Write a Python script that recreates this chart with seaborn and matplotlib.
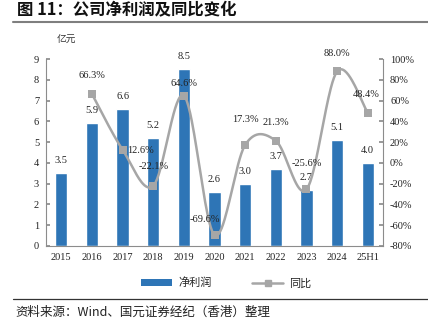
import numpy as np
import pandas as pd
import matplotlib
matplotlib.use("Agg")
import matplotlib.pyplot as plt
from matplotlib.lines import Line2D
from matplotlib.patches import Patch
import seaborn as sns

sns.set_theme(style="white")
plt.rcParams["font.family"] = ["Liberation Serif", "Noto Sans CJK SC", "DejaVu Sans"]

# ---- data ----
periods = ["2015", "2016", "2017", "2018", "2019", "2020",
           "2021", "2022", "2023", "2024", "25H1"]
net_profit = [3.5, 5.9, 6.6, 5.2, 8.5, 2.6, 3.0, 3.7, 2.7, 5.1, 4.0]
yoy_periods = ["2016", "2017", "2018", "2019", "2020",
               "2021", "2022", "2023", "2024", "25H1"]
yoy = [66.3, 12.6, -22.1, 64.6, -69.6, 17.3, 21.3, -25.6, 88.0, 48.4]

# label offsets (pixels) for the yoy annotations
yoy_offsets = [(0, 19), (18, -1), (0, 19), (0, 12), (-10, 16),
               (0, 25), (0, 18), (0, 26), (0, 18), (-2, 18)]

BLUE = "#2E75B6"
GREY = "#A6A6A6"
SPINE = "#8C8C8C"

df = pd.DataFrame({"period": periods, "profit": net_profit})

fig = plt.figure(figsize=(4.28, 3.26), dpi=100)
ax = fig.add_axes([0.1075, 0.2455, 0.7875, 0.5735])

sns.barplot(data=df, x="period", y="profit", color=BLUE, width=0.4,
            saturation=1, ax=ax, zorder=2)
ax.set_ylim(0, 9)
ax.set_xlim(-0.5, len(periods) - 0.5)
ax.set_yticks(range(0, 10))
ax.set_xlabel("")
ax.set_ylabel("")

for i, v in enumerate(net_profit):
    ax.annotate(f"{v:.1f}", (i, v), xytext=(0, 8), textcoords="offset pixels",
                ha="center", va="bottom", fontsize=7.5, color="#222222")

# right axis: year-over-year growth, smooth curve
ax2 = ax.twinx()
ax2.set_ylim(-80, 100)
ax2.set_yticks(range(-80, 101, 20))
ax2.set_yticklabels([f"{t}%" for t in range(-80, 101, 20)])

xs = np.array([periods.index(p) for p in yoy_periods], dtype=float)
ys = np.array(yoy, dtype=float)
pts = np.column_stack([xs, ys])
curve = []
n = len(pts)
for i in range(n - 1):
    p0 = pts[i - 1] if i > 0 else pts[i]
    p1 = pts[i]
    p2 = pts[i + 1]
    p3 = pts[i + 2] if i + 2 < n else pts[i + 1]
    c1 = p1 + (p2 - p0) / 6.0
    c2 = p2 - (p3 - p1) / 6.0
    t = np.linspace(0, 1, 40)[:, None]
    seg = ((1 - t) ** 3) * p1 + 3 * ((1 - t) ** 2) * t * c1 \
        + 3 * (1 - t) * t ** 2 * c2 + t ** 3 * p2
    curve.append(seg if i == 0 else seg[1:])
curve = np.vstack(curve)
ax2.plot(curve[:, 0], curve[:, 1], color=GREY, lw=1.8, zorder=3,
         solid_capstyle="round")
sns.scatterplot(x=xs, y=ys, marker="s", s=28, color=GREY, edgecolor=GREY,
                linewidth=0, ax=ax2, zorder=4)

for x, v, off in zip(xs, yoy, yoy_offsets):
    ax2.annotate(f"{v:.1f}%", (x, v), xytext=off, textcoords="offset pixels",
                 ha="center", va="center", fontsize=7.5, color="#222222")

# axis styling
for a in (ax, ax2):
    a.spines["top"].set_visible(False)
    for s in ("left", "right", "bottom"):
        a.spines[s].set_color(SPINE)
        a.spines[s].set_linewidth(0.8)
ax.spines["right"].set_visible(False)
ax2.spines["left"].set_visible(False)
ax2.spines["bottom"].set_visible(False)

ax.tick_params(axis="y", direction="in", length=3, color=SPINE, labelsize=7.5,
               pad=5, labelcolor="#222222")
ax2.tick_params(axis="y", direction="in", length=3, color=SPINE, labelsize=7.5,
                pad=5, labelcolor="#222222")
ax.set_xticks(np.arange(len(periods)))
ax.set_xticks(np.arange(-0.5, len(periods)), minor=True)
ax.tick_params(axis="x", which="major", length=0, labelsize=7.5, pad=5,
               labelcolor="#222222")
ax.tick_params(axis="x", which="minor", direction="in", length=3, color=SPINE)
ax.set_xlim(-0.5, len(periods) - 0.5)
ax2.set_xlim(-0.5, len(periods) - 0.5)

ax.text(0.033, 1.1, "亿元", transform=ax.transAxes, fontsize=7,
        family=["Noto Sans CJK SC"], color="#333333", ha="left", va="center")

# legend
handles = [Patch(facecolor=BLUE, edgecolor="none"),
           Line2D([0], [0], color=GREY, lw=1.8, marker="s", markersize=4)]
fig.legend(handles, ["净利润", "同比"], loc="center", bbox_to_anchor=(0.529, 0.132),
           ncol=2, frameon=False, handlelength=2.8, handleheight=0.6,
           columnspacing=3.6, handletextpad=0.55,
           prop={"family": ["Noto Sans CJK SC"], "size": 8})

# title, rules and source note
fig.text(0.04, 0.967, "图 11：公司净利润及同比变化", fontsize=11.8, fontweight="bold",
         family=["Noto Sans CJK SC"], ha="left", va="center", color="#111111")
fig.add_artist(Line2D([0.03, 1.0], [0.933, 0.933], color="#7F7F7F", lw=1.5,
                      transform=fig.transFigure))
fig.add_artist(Line2D([0.03, 1.0], [0.083, 0.083], color="#333333", lw=0.9,
                      transform=fig.transFigure))
fig.text(0.037, 0.043, "资料来源：Wind、国元证券经纪（香港）整理", fontsize=9,
         style="italic", family=["Noto Sans CJK SC"], ha="left", va="center",
         color="#222222")

fig.savefig("out.png", dpi=100)
